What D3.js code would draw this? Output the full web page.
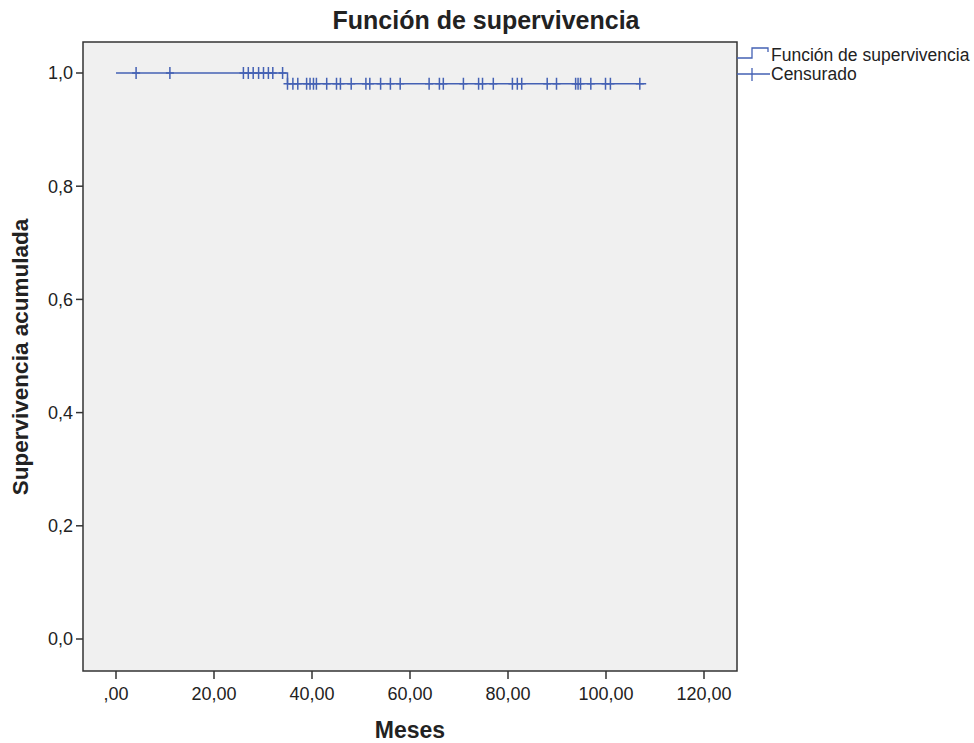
<!DOCTYPE html>
<html>
  <head>
    <meta charset="utf-8">
    <title>Función de supervivencia</title>
    <script src="https://d3js.org/d3.v7.min.js"></script>
    <style>
      body { margin: 0; background: #fff; }
      text { font-family: "Liberation Sans", Arial, sans-serif; fill: #222; }
    </style>
  </head>
  <body>
    <svg width="974" height="743"></svg>

    <script>
      // ---- data ----
      // survival steps: [months, cumulative survival]
      const steps = [
        [0, 1.0],
        [35.0, 0.981]
      ];
      const endTime = 108.2;

      // censored observations (months)
      const censored = [
        4.1, 11.0, 26.0, 27.0, 28.0, 29.1, 30.1, 31.1, 32.0, 34.0,
        35.0, 36.1, 37.1, 38.9, 39.6, 40.3, 40.9, 43.0, 45.0, 45.8,
        48.0, 51.0, 51.8, 54.0, 56.0, 58.0, 63.9, 66.0, 66.8, 70.9,
        74.0, 74.8, 77.0, 80.9, 81.9, 82.8, 88.0, 89.9, 93.8, 94.3,
        94.8, 96.9, 99.9, 100.9, 106.9
      ];

      const xTicks = [0, 20, 40, 60, 80, 100, 120];
      const yTicks = [0, 0.2, 0.4, 0.6, 0.8, 1.0];
      const legendLabels = ["Función de supervivencia", "Censurado"];

      const lineColor = "#4461b4";

      // ---- layout ----
      const svg = d3.select("svg");
      const frame = { left: 83, right: 737, top: 42, bottom: 671 };

      const x = d3.scaleLinear().domain([0, 120]).range([116, 704]);
      const y = d3.scaleLinear().domain([0, 1]).range([639, 73]);

      // survival value at time t
      function surv(t) {
        let s = steps[0][1];
        steps.forEach(d => { if (t >= d[0]) s = d[1]; });
        return s;
      }

      // plot background
      svg.append("rect")
        .attr("x", frame.left).attr("y", frame.top)
        .attr("width", frame.right - frame.left)
        .attr("height", frame.bottom - frame.top)
        .attr("fill", "#f0f0f0")
        .attr("stroke", "#333").attr("stroke-width", 1.5);

      const fmtY = d => d3.format(".1f")(d).replace(".", ",");
      const fmtX = d => (d === 0 ? ",00" : d3.format(".2f")(d).replace(".", ","));

      // y ticks
      svg.append("g").selectAll("line").data(yTicks).join("line")
        .attr("x1", frame.left - 7).attr("x2", frame.left)
        .attr("y1", d => y(d)).attr("y2", d => y(d))
        .attr("stroke", "#333").attr("stroke-width", 1.5);
      svg.append("g").selectAll("text").data(yTicks).join("text")
        .attr("x", frame.left - 10).attr("y", d => y(d))
        .attr("dy", "0.35em").attr("text-anchor", "end")
        .attr("font-size", 18)
        .text(fmtY);

      // x ticks
      svg.append("g").selectAll("line").data(xTicks).join("line")
        .attr("x1", d => x(d)).attr("x2", d => x(d))
        .attr("y1", frame.bottom).attr("y2", frame.bottom + 8)
        .attr("stroke", "#333").attr("stroke-width", 1.5);
      svg.append("g").selectAll("text").data(xTicks).join("text")
        .attr("x", d => x(d)).attr("y", frame.bottom + 23)
        .attr("dy", "0.35em").attr("text-anchor", "middle")
        .attr("font-size", 18)
        .text(fmtX);

      // step line
      const pts = [];
      steps.forEach((d, i) => {
        if (i > 0) pts.push([d[0], steps[i - 1][1]]);
        pts.push(d);
      });
      pts.push([endTime, steps[steps.length - 1][1]]);

      svg.append("path")
        .datum(pts)
        .attr("fill", "none")
        .attr("stroke", lineColor)
        .attr("stroke-width", 1.5)
        .attr("d", d3.line().x(d => x(d[0])).y(d => y(d[1])));

      // censor marks
      svg.append("g").selectAll("path").data(censored).join("path")
        .attr("fill", "none")
        .attr("stroke", lineColor)
        .attr("stroke-width", 1.5)
        .attr("d", t => {
          const cx = x(t), cy = y(surv(t));
          return `M${cx},${cy - 6}V${cy + 6}M${cx - 4},${cy}H${cx + 4}`;
        });

      // titles
      svg.append("text")
        .attr("x", 486).attr("y", 29)
        .attr("text-anchor", "middle")
        .attr("font-size", 25).attr("font-weight", "bold")
        .text("Función de supervivencia");

      svg.append("text")
        .attr("transform", "translate(28,357) rotate(-90)")
        .attr("text-anchor", "middle")
        .attr("font-size", 22.5).attr("font-weight", "bold")
        .text("Supervivencia acumulada");

      svg.append("text")
        .attr("x", 410).attr("y", 738)
        .attr("text-anchor", "middle")
        .attr("font-size", 23).attr("font-weight", "bold")
        .text("Meses");

      // legend
      const lg = svg.append("g");
      lg.append("path")
        .attr("fill", "none").attr("stroke", lineColor).attr("stroke-width", 1.3)
        .attr("d", "M737,58H752V48H768V52");
      lg.append("path")
        .attr("fill", "none").attr("stroke", lineColor).attr("stroke-width", 1.3)
        .attr("d", "M737,74H770M752,68V81");
      lg.selectAll("text").data(legendLabels).join("text")
        .attr("x", 771).attr("y", (d, i) => 55 + i * 19)
        .attr("dy", "0.35em")
        .attr("font-size", 17.5)
        .text(d => d);
    </script>
  </body>
</html>
